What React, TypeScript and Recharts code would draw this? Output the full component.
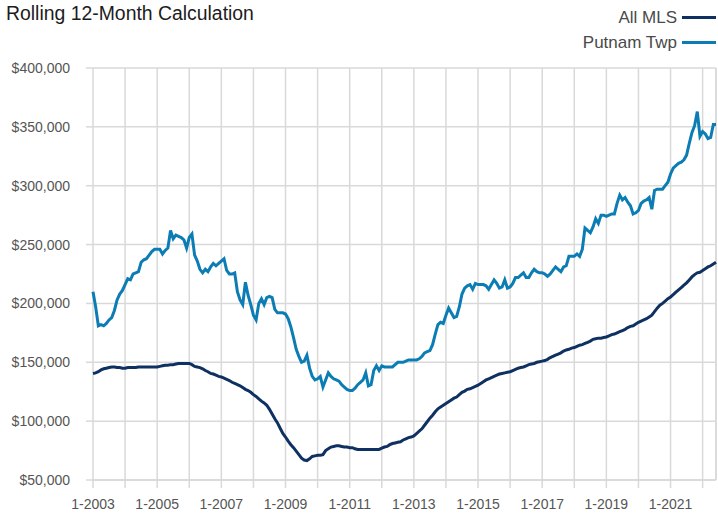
import React from 'react';
import {
  LineChart,
  Line,
  XAxis,
  YAxis,
  CartesianGrid,
  ReferenceLine,
} from 'recharts';

// monthly values, in $ thousands, 1-2003 .. 6-2022
const allMls = [
  140.5, 141, 142, 143.5, 144.5, 145, 145.5, 146, 146, 145.5, 145.5, 145,
  145, 145.5, 145.5, 145.5, 145.5, 146, 146, 146, 146, 146, 146, 146,
  146, 146.5, 147, 147.5, 147.5, 148, 148, 148.5, 149, 149, 149, 149,
  149, 148, 146.5, 146, 145.5, 144.5, 143, 142, 140.5, 140, 139, 138,
  137.5, 136.5, 135.5, 134.5, 133, 132, 131, 130, 128.5, 127, 126, 124.5,
  122.5, 121, 119, 117, 115.5, 113.5, 110, 106, 102, 98.5, 94, 89.5,
  86.5, 83, 80, 77.5, 74.5, 71.5, 68.5, 67, 66.5, 68, 70, 70.5,
  71, 71, 71.5, 75, 76.5, 78, 78.5, 79, 79, 78.5, 78, 78,
  77.5, 77.5, 76.5, 76, 76, 76, 76, 76, 76, 76, 76, 76,
  77, 78, 78.5, 80, 81, 81.5, 82, 82.5, 84, 85, 86, 86.5,
  87.5, 89.5, 91.5, 93.5, 96.5, 99.5, 102.5, 105, 108, 110.5, 112, 113.5,
  115, 116.5, 118, 119.5, 120.5, 122.5, 124.5, 125.5, 127, 127.5, 128.5, 129.5,
  130.5, 132, 133.5, 135, 136, 137, 138, 139, 140, 140.5, 141, 141.5,
  142, 143, 144, 145, 145.5, 146, 147, 148, 148.5, 149, 150, 150.5,
  151, 151.5, 152.5, 154, 155, 156, 157, 158, 159.5, 160.5, 161, 162,
  162.5, 163.5, 164.5, 165, 166, 167, 168, 169.5, 170, 170.5, 170.5, 171,
  171.5, 172.5, 173.5, 174, 175, 176, 177, 178, 179.5, 180.5, 181, 182.5,
  184, 185, 186, 187, 188.5, 190, 193, 196, 198.5, 200, 202, 204,
  205.5, 207.5, 209.5, 211.5, 213.5, 215.5, 217.5, 220, 222.5, 224.5, 226, 226.5,
  228, 229.5, 231, 232, 233.5, 235,
];

const putnam = [
  210, 197, 181, 182, 181, 183, 186, 188, 194, 203, 208, 211,
  216, 221, 220, 225, 226, 227, 235, 237, 238, 241, 244, 246,
  246, 246, 242, 245, 247, 262, 255, 258, 257, 256, 254, 247,
  256, 259, 241, 236, 229, 226, 229, 227, 231, 234, 232, 234,
  236, 238, 228, 225, 225, 226, 210, 203, 199, 218, 207, 199,
  190, 186, 200, 204, 199, 205, 206, 205, 195, 192, 192, 192,
  191, 187, 180, 171, 161, 155, 150, 151, 156, 145, 138, 135,
  136, 138, 129, 135, 141, 138, 136, 135, 134, 131, 129, 127,
  126, 126, 128, 131, 133, 135, 141, 130, 131, 143, 147, 143,
  147, 146, 146, 146, 146, 148, 150, 150, 150, 151, 152, 152,
  152, 152, 153, 155, 158, 159, 160, 165, 174, 182, 184, 183,
  190, 196, 192, 188, 189, 197, 208, 213, 215, 216, 212, 217,
  216, 216, 216, 215, 212, 216, 220, 217, 213, 214, 220, 213,
  214, 217, 222, 222, 224, 226, 222, 222, 226, 229, 227, 226,
  226, 225, 223, 225, 228, 231, 229, 227, 231, 232, 240, 240,
  240, 242, 240, 246, 264, 262, 260, 265, 272, 268, 275, 275,
  274, 275, 276, 276, 285, 292, 288, 290, 286, 283, 276, 277,
  279, 285, 287, 288, 290, 280, 296, 297, 297, 297, 300, 303,
  310, 315, 317, 319, 320, 322, 326, 336, 345, 351, 363, 342,
  346, 344, 340, 341, 352, 352,
];

const yearTicks = [
  2003, 2004, 2005, 2006, 2007, 2008, 2009, 2010, 2011, 2012,
  2013, 2014, 2015, 2016, 2017, 2018, 2019, 2020, 2021, 2022,
];
const labelledYears = [2003, 2005, 2007, 2009, 2011, 2013, 2015, 2017, 2019, 2021];
const valueTicks = [50, 100, 150, 200, 250, 300, 350, 400];

const seriesNames = ['All MLS', 'Putnam Twp'];
const seriesColors = ['#0f3161', '#0b7db4'];

const data = allMls.map((v, i) => ({ t: 2003 + i / 12, allMls: v, putnam: putnam[i] }));
const lastT = data[data.length - 1].t;

const FONT = '"Liberation Sans", Arial, sans-serif';
const GRID = '#d9d9d9';

function LegendBox() {
  return (
    <div
      style={{
        position: 'absolute',
        top: 5,
        right: 2,
        fontFamily: FONT,
        fontSize: 17,
        color: '#4a4a4a',
      }}
    >
      {seriesNames.map((name, i) => (
        <div
          key={name}
          style={{ display: 'flex', alignItems: 'center', justifyContent: 'flex-end', height: 25 }}
        >
          <span>{name}</span>
          <span
            style={{
              display: 'inline-block',
              width: 34,
              height: 3,
              marginLeft: 5,
              background: seriesColors[i],
            }}
          />
        </div>
      ))}
    </div>
  );
}

export default function App() {
  return (
    <div style={{ position: 'absolute', left: 0, top: 0, width: 718, height: 515, background: '#fff' }}>
      <div
        style={{
          position: 'absolute',
          left: 6,
          top: 0,
          fontFamily: FONT,
          fontSize: 19.4,
          color: '#1c1c1c',
          lineHeight: '26px',
        }}
      >
        Rolling 12-Month Calculation
      </div>
      <LegendBox />
      <LineChart
        width={718}
        height={515}
        data={data}
        margin={{ top: 68, right: 2, bottom: 0, left: 0 }}
      >
        <CartesianGrid stroke={GRID} strokeWidth={1.5} />
        <XAxis
          dataKey="t"
          type="number"
          domain={[2003, lastT]}
          ticks={yearTicks}
          interval={0}
          tickFormatter={(y) => (labelledYears.includes(y) ? `1-${y}` : '')}
          tick={{ fill: '#555', fontSize: 14, fontFamily: FONT }}
          tickSize={8}
          tickMargin={11}
          tickLine={{ stroke: GRID, strokeWidth: 1.5 }}
          axisLine={{ stroke: GRID, strokeWidth: 1.5 }}
          height={35}
        />
        <YAxis
          type="number"
          domain={[50, 400]}
          ticks={valueTicks}
          interval={0}
          tickFormatter={(v) => `$${v},000`}
          tick={{ fill: '#555', fontSize: 14, fontFamily: FONT }}
          tickSize={7}
          tickMargin={16}
          tickLine={{ stroke: GRID, strokeWidth: 1.5 }}
          axisLine={false}
          width={93}
        />
        <ReferenceLine x={lastT} stroke={GRID} strokeWidth={1.5} />
        <Line
          type="linear"
          dataKey="allMls"
          name={seriesNames[0]}
          stroke={seriesColors[0]}
          strokeWidth={3}
          dot={false}
          isAnimationActive={false}
        />
        <Line
          type="linear"
          dataKey="putnam"
          name={seriesNames[1]}
          stroke={seriesColors[1]}
          strokeWidth={3}
          dot={false}
          isAnimationActive={false}
        />
      </LineChart>
    </div>
  );
}
